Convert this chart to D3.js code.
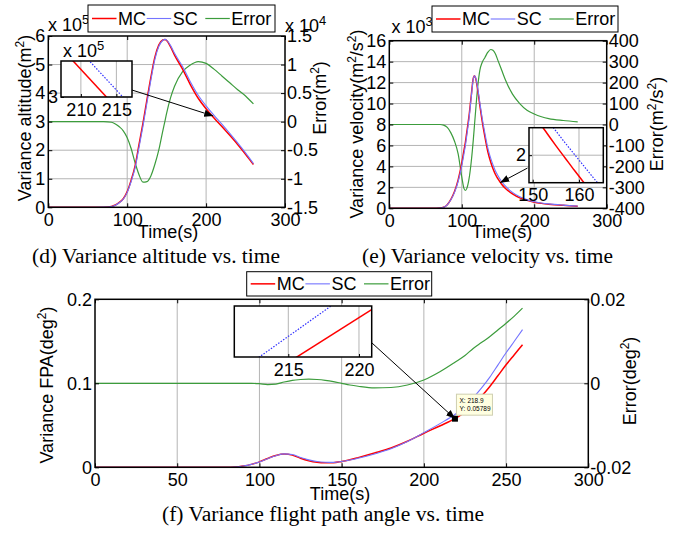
<!DOCTYPE html>
<html>
<head>
<meta charset="utf-8">
<script src="https://cdn.jsdelivr.net/npm/d3@7"></script>
<style>
  html, body { margin: 0; padding: 0; background: #fff; }
  svg text { font-family: "Liberation Sans", Arial, sans-serif; fill: #000; }
  svg text.cap { font-family: "Liberation Serif", "Times New Roman", serif; }
</style>
</head>
<body>
<svg id="fig" width="680" height="533"></svg>
<script>
// ---------- (d) altitude variance ----------
const timeAlt = [0, 20, 40, 60, 70, 80, 85, 90, 95, 100, 105, 110, 115, 120, 125, 130, 135, 140, 145, 148, 150, 155, 160, 170, 180, 190, 200, 210, 220, 230, 240, 250, 260];
const altMC  = [0, 0, 0, 0, 0.005, 0.03, 0.08, 0.17, 0.3, 0.55, 0.95, 1.45, 2.2, 2.95, 3.76, 4.55, 5.25, 5.68, 5.86, 5.88, 5.84, 5.62, 5.33, 4.85, 4.3, 3.82, 3.45, 3.13, 2.83, 2.52, 2.2, 1.86, 1.5];
const altSC  = [0, 0, 0, 0, 0.005, 0.029, 0.076, 0.161, 0.284, 0.522, 0.903, 1.378, 2.107, 2.844, 3.655, 4.455, 5.175, 5.63, 5.843, 5.882, 5.855, 5.662, 5.392, 4.937, 4.399, 3.925, 3.552, 3.222, 2.91, 2.588, 2.256, 1.905, 1.531];
const altErr = [0, 0, 0, 0, 0, -0.01, -0.04, -0.09, -0.16, -0.28, -0.47, -0.72, -0.93, -1.06, -1.05, -0.95, -0.75, -0.5, -0.17, 0.02, 0.15, 0.42, 0.62, 0.87, 0.99, 1.05, 1.02, 0.92, 0.8, 0.68, 0.56, 0.45, 0.31];
const insetAltTime = [207, 218];
const insetAltMC = [3.225, 2.85];
const insetAltSC = [3.303, 2.929];

// ---------- (e) velocity variance ----------
const timeVel = [0, 20, 40, 60, 70, 75, 80, 85, 90, 95, 100, 103, 105, 107, 110, 113, 116, 117.5, 119, 122, 125, 128, 132, 136, 140, 143, 146, 150, 155, 160, 170, 180, 190, 200, 210, 220, 240, 260];
const velMC  = [0, 0, 0, 0, 0.02, 0.1, 0.35, 0.85, 1.6, 2.7, 4.3, 5.5, 6.3, 7.3, 8.8, 10.7, 12.45, 12.65, 12.45, 11.3, 9.8, 8.4, 6.8, 5.4, 4.4, 3.8, 3.3, 2.8, 2.3, 1.92, 1.38, 1.0, 0.76, 0.58, 0.47, 0.39, 0.28, 0.2];
const velSC  = [0, 0, 0, 0, 0.02, 0.097, 0.336, 0.81, 1.52, 2.56, 4.05, 5.195, 5.985, 6.995, 8.54, 10.52, 12.38, 12.645, 12.51, 11.48, 10.06, 8.695, 7.12, 5.745, 4.758, 4.154, 3.64, 3.105, 2.56, 2.135, 1.525, 1.1, 0.828, 0.63, 0.507, 0.418, 0.299, 0.213];
const velErr = [0, 0, 0, 0, 0, -3, -14, -40, -80, -140, -250, -305, -315, -305, -260, -180, -70, -5, 60, 180, 260, 295, 320, 345, 358, 354, 340, 305, 260, 215, 145, 100, 68, 50, 37, 28, 19, 13];
const insetVelTime = [149, 151, 153, 155, 157, 159, 161, 163, 165, 167];
const insetVelMC = [2.55, 2.39, 2.245, 2.105, 1.97, 1.835, 1.705, 1.58, 1.46, 1.34];
const insetVelSC = [2.67, 2.53, 2.395, 2.265, 2.135, 2.01, 1.885, 1.76, 1.64, 1.52];

// ---------- (f) flight path angle variance ----------
const timeFpa = [0, 50, 80, 85, 90, 95, 100, 105, 110, 115, 120, 125, 130, 135, 140, 145, 150, 155, 160, 170, 180, 190, 200, 210, 218.9, 225, 230, 235, 240, 245, 250, 255, 260];
const fpaMC  = [0, 0, 0, 0.0003, 0.0015, 0.0035, 0.0065, 0.0105, 0.014, 0.0157, 0.0145, 0.0107, 0.0078, 0.006, 0.0054, 0.0055, 0.007, 0.009, 0.0115, 0.017, 0.023, 0.031, 0.0405, 0.0495, 0.05789, 0.0655, 0.0745, 0.0845, 0.096, 0.109, 0.122, 0.134, 0.146];
const fpaSC  = [0, 0, 0, 0.0003, 0.0015, 0.0035, 0.0064, 0.0102, 0.0138, 0.016, 0.0152, 0.0116, 0.0088, 0.0069, 0.0061, 0.0059, 0.007, 0.0086, 0.0108, 0.0159, 0.022, 0.0306, 0.0413, 0.0523, 0.0629, 0.0721, 0.0828, 0.0942, 0.1071, 0.1217, 0.1363, 0.15, 0.1639];
const fpaErr = [0, 0, 0, 0, 0, 0, -0.0001, -0.0003, -0.0002, 0.0003, 0.0007, 0.0009, 0.001, 0.0009, 0.0007, 0.0004, 0, -0.0004, -0.0007, -0.0011, -0.001, -0.0004, 0.0008, 0.0028, 0.005, 0.0066, 0.0083, 0.0097, 0.0111, 0.0127, 0.0143, 0.016, 0.0179];
const insetFpaTime = [211, 222];
const insetFpaMC = [0.04884, 0.06237];
const insetFpaSC = [0.05181, 0.06699];
const tipTime = 218.9, tipValue = 0.05789;

// ---------- tick values ----------
const ticksTimeDE = [0, 100, 200, 300];
const ticksTimeF = [0, 50, 100, 150, 200, 250, 300];
const ticksAlt = [0, 1, 2, 3, 4, 5, 6];
const ticksAltErr = [-1.5, -1, -0.5, 0, 0.5, 1, 1.5];
const ticksVel = [0, 2, 4, 6, 8, 10, 12, 14, 16];
const ticksVelErr = [-400, -300, -200, -100, 0, 100, 200, 300, 400];
const ticksFpa = [0, 0.1, 0.2];
const ticksFpaErr = [-0.02, 0, 0.02];
const legendNames = ["MC", "SC", "Error"];

// ---------- drawing ----------
const svg = d3.select("#fig");
const FS = 18;
const COL = { mc: "#ff0000", sc: "#7474ff", err: "#3c9c3c", grid: "#b4b4b4" };
const zip = (t, v) => t.map((ti, i) => [ti, v[i]]);
const fmt = d => String(d);
const defs = svg.append("defs");
defs.append("marker").attr("id", "arrowHead")
  .attr("viewBox", "0 0 10 10").attr("refX", 10).attr("refY", 5)
  .attr("markerWidth", 9).attr("markerHeight", 9).attr("markerUnits", "userSpaceOnUse")
  .attr("orient", "auto")
  .append("path").attr("d", "M0,1 L10,5 L0,9 Z").attr("fill", "#000");

let clipCount = 0;
function clip(x, y, w, h) {
  const id = "clip" + (clipCount++);
  defs.append("clipPath").attr("id", id).append("rect")
    .attr("x", x).attr("y", y).attr("width", w).attr("height", h);
  return `url(#${id})`;
}

function styleAxis(sel) {
  sel.selectAll(".domain").remove();
  sel.attr("font-family", null).attr("font-size", null);
  sel.selectAll(".tick line").attr("stroke", "#000").attr("stroke-width", 1);
  sel.selectAll("text").attr("font-size", FS).attr("fill", "#000");
}

function lineOf(x, y) {
  return d3.line().x(d => x(d[0])).y(d => y(d[1])).curve(d3.curveMonotoneX);
}

function drawSeries(g, x, y, data, color, width, dash) {
  g.append("path").datum(data).attr("d", lineOf(x, y))
    .attr("fill", "none").attr("stroke", color).attr("stroke-width", width)
    .attr("stroke-dasharray", dash || null);
}

// text with an optional superscript run: parts = [[text, isSup], ...]
function richText(g, parts, attrs, supSize) {
  const t = g.append("text");
  Object.entries(attrs).forEach(([k, v]) => t.attr(k, v));
  let raised = false;
  parts.forEach(([s, sup]) => {
    const sp = t.append("tspan").text(s);
    if (sup && !raised) { sp.attr("dy", -7).attr("font-size", supSize || 12); raised = true; }
    else if (!sup && raised) { sp.attr("dy", 7); raised = false; }
    else if (sup) sp.attr("font-size", supSize || 12);
  });
  return t;
}

function panel(p) {
  const g = svg.append("g");
  const x = d3.scaleLinear().domain(p.xDomain).range([p.l, p.r]);
  const y = d3.scaleLinear().domain(p.yDomain).range([p.b, p.t]);
  const y2 = d3.scaleLinear().domain(p.y2Domain).range([p.b, p.t]);

  g.append("g").selectAll("line").data(p.xTicks.filter(v => v > p.xDomain[0] && v < p.xDomain[1])).join("line")
    .attr("x1", d => x(d)).attr("x2", d => x(d)).attr("y1", p.t).attr("y2", p.b)
    .attr("stroke", COL.grid).attr("stroke-width", 1);
  g.append("g").selectAll("line").data(p.yTicks.filter(v => v > p.yDomain[0] && v < p.yDomain[1])).join("line")
    .attr("y1", d => y(d)).attr("y2", d => y(d)).attr("x1", p.l).attr("x2", p.r)
    .attr("stroke", COL.grid).attr("stroke-width", 1);

  const cg = g.append("g").attr("clip-path", clip(p.l, p.t, p.r - p.l, p.b - p.t));
  drawSeries(cg, x, y2, zip(p.time, p.err), COL.err, 1.2);
  drawSeries(cg, x, y, zip(p.time, p.mc), COL.mc, 1.5);
  drawSeries(cg, x, y, zip(p.time, p.sc), COL.sc, 1.1);

  g.append("g").attr("transform", `translate(0,${p.b})`)
    .call(d3.axisBottom(x).tickValues(p.xTicks).tickFormat(fmt).tickSizeInner(-4).tickSizeOuter(0).tickPadding(6)).call(styleAxis);
  g.append("g").attr("transform", `translate(0,${p.t})`)
    .call(d3.axisTop(x).tickValues(p.xTicks).tickFormat("").tickSizeInner(-4).tickSizeOuter(0)).call(styleAxis);
  g.append("g").attr("transform", `translate(${p.l},0)`)
    .call(d3.axisLeft(y).tickValues(p.yTicks).tickFormat(fmt).tickSizeInner(-4).tickSizeOuter(0).tickPadding(3)).call(styleAxis);
  g.append("g").attr("transform", `translate(${p.r},0)`)
    .call(d3.axisRight(y2).tickValues(p.y2Ticks).tickFormat(fmt).tickSizeInner(-4).tickSizeOuter(0).tickPadding(2)).call(styleAxis);

  g.append("rect").attr("x", p.l).attr("y", p.t).attr("width", p.r - p.l).attr("height", p.b - p.t)
    .attr("fill", "none").attr("stroke", "#000").attr("stroke-width", 1.5);

  // axis titles
  g.append("text").attr("x", p.xLabel[0]).attr("y", p.xLabel[1]).attr("text-anchor", "middle")
    .attr("font-size", FS).text("Time(s)");
  richText(g, p.yLabel.parts, { transform: `translate(${p.yLabel.x},${p.yLabel.y}) rotate(-90)`,
    "text-anchor": "middle", dy: "0.35em", "font-size": FS });
  richText(g, p.y2Label.parts, { transform: `translate(${p.y2Label.x},${p.y2Label.y}) rotate(-90)`,
    "text-anchor": "middle", dy: "0.35em", "font-size": FS });
  (p.exponents || []).forEach(e => {
    richText(g, [["x 10", false], [e.pow, true]], { x: e.x, y: e.y, "font-size": FS }, 13);
  });

  // caption
  const c = p.caption;
  g.append("text").attr("class", "cap").attr("x", c.x).attr("y", c.y)
    .attr("font-size", 20).attr("textLength", c.w).attr("lengthAdjust", "spacingAndGlyphs").text(c.text);

  // legend
  const L = p.legend;
  const lg = g.append("g").attr("transform", `translate(${L.x},${L.y})`);
  lg.append("rect").attr("width", L.w).attr("height", L.h).attr("fill", "#fff").attr("stroke", "#000").attr("stroke-width", 1);
  const sampleX = [4, 58.7, 117.3];
  const legendCols = [[COL.mc, 1.5], [COL.sc, 1.1], [COL.err, 1.2]];
  legendNames.forEach((name, i) => {
    lg.append("line").attr("x1", sampleX[i]).attr("x2", sampleX[i] + 24.5)
      .attr("y1", L.h / 2).attr("y2", L.h / 2)
      .attr("stroke", legendCols[i][0]).attr("stroke-width", legendCols[i][1]);
    lg.append("text").attr("x", sampleX[i] + 26).attr("y", L.h / 2).attr("dy", "0.36em")
      .attr("font-size", FS).text(name);
  });
  return { x, y, y2 };
}

function inset(p) {
  const g = svg.append("g");
  const x = d3.scaleLinear().domain(p.xDomain).range([p.l, p.r]);
  const y = d3.scaleLinear().domain(p.yDomain).range([p.b, p.t]);
  g.append("rect").attr("x", p.l).attr("y", p.t).attr("width", p.r - p.l).attr("height", p.b - p.t).attr("fill", "#fff");
  g.append("g").selectAll("line").data(p.xTicks).join("line")
    .attr("x1", d => x(d)).attr("x2", d => x(d)).attr("y1", p.t).attr("y2", p.b)
    .attr("stroke", COL.grid).attr("stroke-width", 1);
  g.append("g").selectAll("line").data(p.yTicks).join("line")
    .attr("y1", d => y(d)).attr("y2", d => y(d)).attr("x1", p.l).attr("x2", p.r)
    .attr("stroke", COL.grid).attr("stroke-width", 1);
  const cg = g.append("g").attr("clip-path", clip(p.l, p.t, p.r - p.l, p.b - p.t));
  drawSeries(cg, x, y, zip(p.time, p.mc), COL.mc, 1.5);
  drawSeries(cg, x, y, zip(p.time, p.sc), "#3030ff", 1.2, "1.5,1.5");
  g.append("g").attr("transform", `translate(0,${p.b})`)
    .call(d3.axisBottom(x).tickValues(p.xTicks).tickFormat(fmt).tickSizeInner(-3).tickSizeOuter(0).tickPadding(6)).call(styleAxis);
  g.append("g").attr("transform", `translate(${p.l},0)`)
    .call(d3.axisLeft(y).tickValues(p.yTicks).tickFormat(fmt).tickSizeInner(-3).tickSizeOuter(0).tickPadding(3)).call(styleAxis);
  g.append("rect").attr("x", p.l).attr("y", p.t).attr("width", p.r - p.l).attr("height", p.b - p.t)
    .attr("fill", "none").attr("stroke", "#000").attr("stroke-width", 1.5);
  if (p.exponent) richText(g, [["x 10", false], [p.exponent.pow, true]], { x: p.exponent.x, y: p.exponent.y, "font-size": FS }, 13);
  return { x, y };
}

function arrow(x1, y1, x2, y2) {
  svg.append("line").attr("x1", x1).attr("y1", y1).attr("x2", x2).attr("y2", y2)
    .attr("stroke", "#000").attr("stroke-width", 1).attr("marker-end", "url(#arrowHead)");
}

// (d)
const pd = panel({
  l: 48.3, r: 285, t: 36, b: 207.3,
  xDomain: [0, 300], xTicks: ticksTimeDE,
  yDomain: [0, 6], yTicks: ticksAlt,
  y2Domain: [-1.5, 1.5], y2Ticks: ticksAltErr,
  time: timeAlt, mc: altMC, sc: altSC, err: altErr,
  xLabel: [168, 238],
  yLabel: { x: 25, y: 118, parts: [["Variance altitude(m", false], ["2", true], [")", false]] },
  y2Label: { x: 320, y: 98, parts: [["Error(m", false], ["2", true], [")", false]] },
  exponents: [{ x: 48, y: 31, pow: "5" }, { x: 285, y: 32, pow: "4" }],
  caption: { x: 32, y: 263, w: 248, text: "(d) Variance altitude vs. time" },
  legend: { x: 88, y: 5, w: 187, h: 27 }
});
const idn = inset({
  l: 61, r: 132, t: 61, b: 97,
  xDomain: [207.2, 217.2], xTicks: [210, 215],
  yDomain: [3.0, 3.16], yTicks: [3],
  time: insetAltTime, mc: insetAltMC, sc: insetAltSC,
  exponent: { x: 63, y: 57, pow: "5" }
});
arrow(idn.x.range()[1], idn.y(3.031), pd.x(209), pd.y(3.2));

// (e)
const pe = panel({
  l: 389.3, r: 606.7, t: 40.7, b: 208.3,
  xDomain: [0, 300], xTicks: ticksTimeDE,
  yDomain: [0, 16], yTicks: ticksVel,
  y2Domain: [-400, 400], y2Ticks: ticksVelErr,
  time: timeVel, mc: velMC, sc: velSC, err: velErr,
  xLabel: [502, 238],
  yLabel: { x: 357, y: 124, parts: [["Variance velocity(m", false], ["2", true], ["/s", false], ["2", true], [")", false]] },
  y2Label: { x: 657, y: 124, parts: [["Error(m", false], ["2", true], ["/s", false], ["2", true], [")", false]] },
  exponents: [{ x: 391.5, y: 33, pow: "3" }],
  caption: { x: 362, y: 263, w: 251, text: "(e) Variance velocity vs. time" },
  legend: { x: 432, y: 6, w: 186, h: 26 }
});
const ien = inset({
  l: 529, r: 603.3, t: 127.7, b: 182.7,
  xDomain: [149.2, 165.25], xTicks: [150, 160],
  yDomain: [1.7, 2.3], yTicks: [2],
  time: insetVelTime, mc: insetVelMC, sc: insetVelSC
});
arrow(ien.x.range()[0] - 1.5, ien.y(1.86), pe.x(153), pe.y(2.45));

// (f)
const pf = panel({
  l: 95, r: 588.3, t: 299.3, b: 467.3,
  xDomain: [0, 300], xTicks: ticksTimeF,
  yDomain: [0, 0.2], yTicks: ticksFpa,
  y2Domain: [-0.02, 0.02], y2Ticks: ticksFpaErr,
  time: timeFpa, mc: fpaMC, sc: fpaSC, err: fpaErr,
  xLabel: [340, 500],
  yLabel: { x: 47, y: 385, parts: [["Variance FPA(deg", false], ["2", true], [")", false]] },
  y2Label: { x: 630, y: 381, parts: [["Error(deg", false], ["2", true], [")", false]] },
  exponents: [],
  caption: { x: 162, y: 521, w: 322, text: "(f) Variance flight path angle vs. time" },
  legend: { x: 246.7, y: 271.7, w: 185, h: 24.3 }
});
const ifn = inset({
  l: 234.3, r: 371.7, t: 306, b: 357,
  xDomain: [211.18, 220.9], xTicks: [215, 220],
  yDomain: [0.0545, 0.0615], yTicks: [],
  time: insetFpaTime, mc: insetFpaMC, sc: insetFpaSC
});
const tipX = pf.x(tipTime), tipY = pf.y(tipValue);
arrow(ifn.x.range()[1], ifn.y(0.05646), tipX, tipY);
svg.append("rect").attr("x", tipX - 3).attr("y", tipY - 3).attr("width", 6).attr("height", 6).attr("fill", "#000");
const tip = svg.append("g").attr("transform", `translate(${tipX + 1.5},${tipY - 24.5})`);
tip.append("rect").attr("width", 36).attr("height", 21).attr("fill", "#ffffe1").attr("stroke", "#cfcfb0").attr("stroke-width", 1);
tip.append("text").attr("x", 3).attr("y", 8.5).attr("font-size", 6.5).attr("fill", "#222").text(`X: ${tipTime}`);
tip.append("text").attr("x", 3).attr("y", 16.5).attr("font-size", 6.5).attr("fill", "#222").text(`Y: ${tipValue}`);
</script>
</body>
</html>
